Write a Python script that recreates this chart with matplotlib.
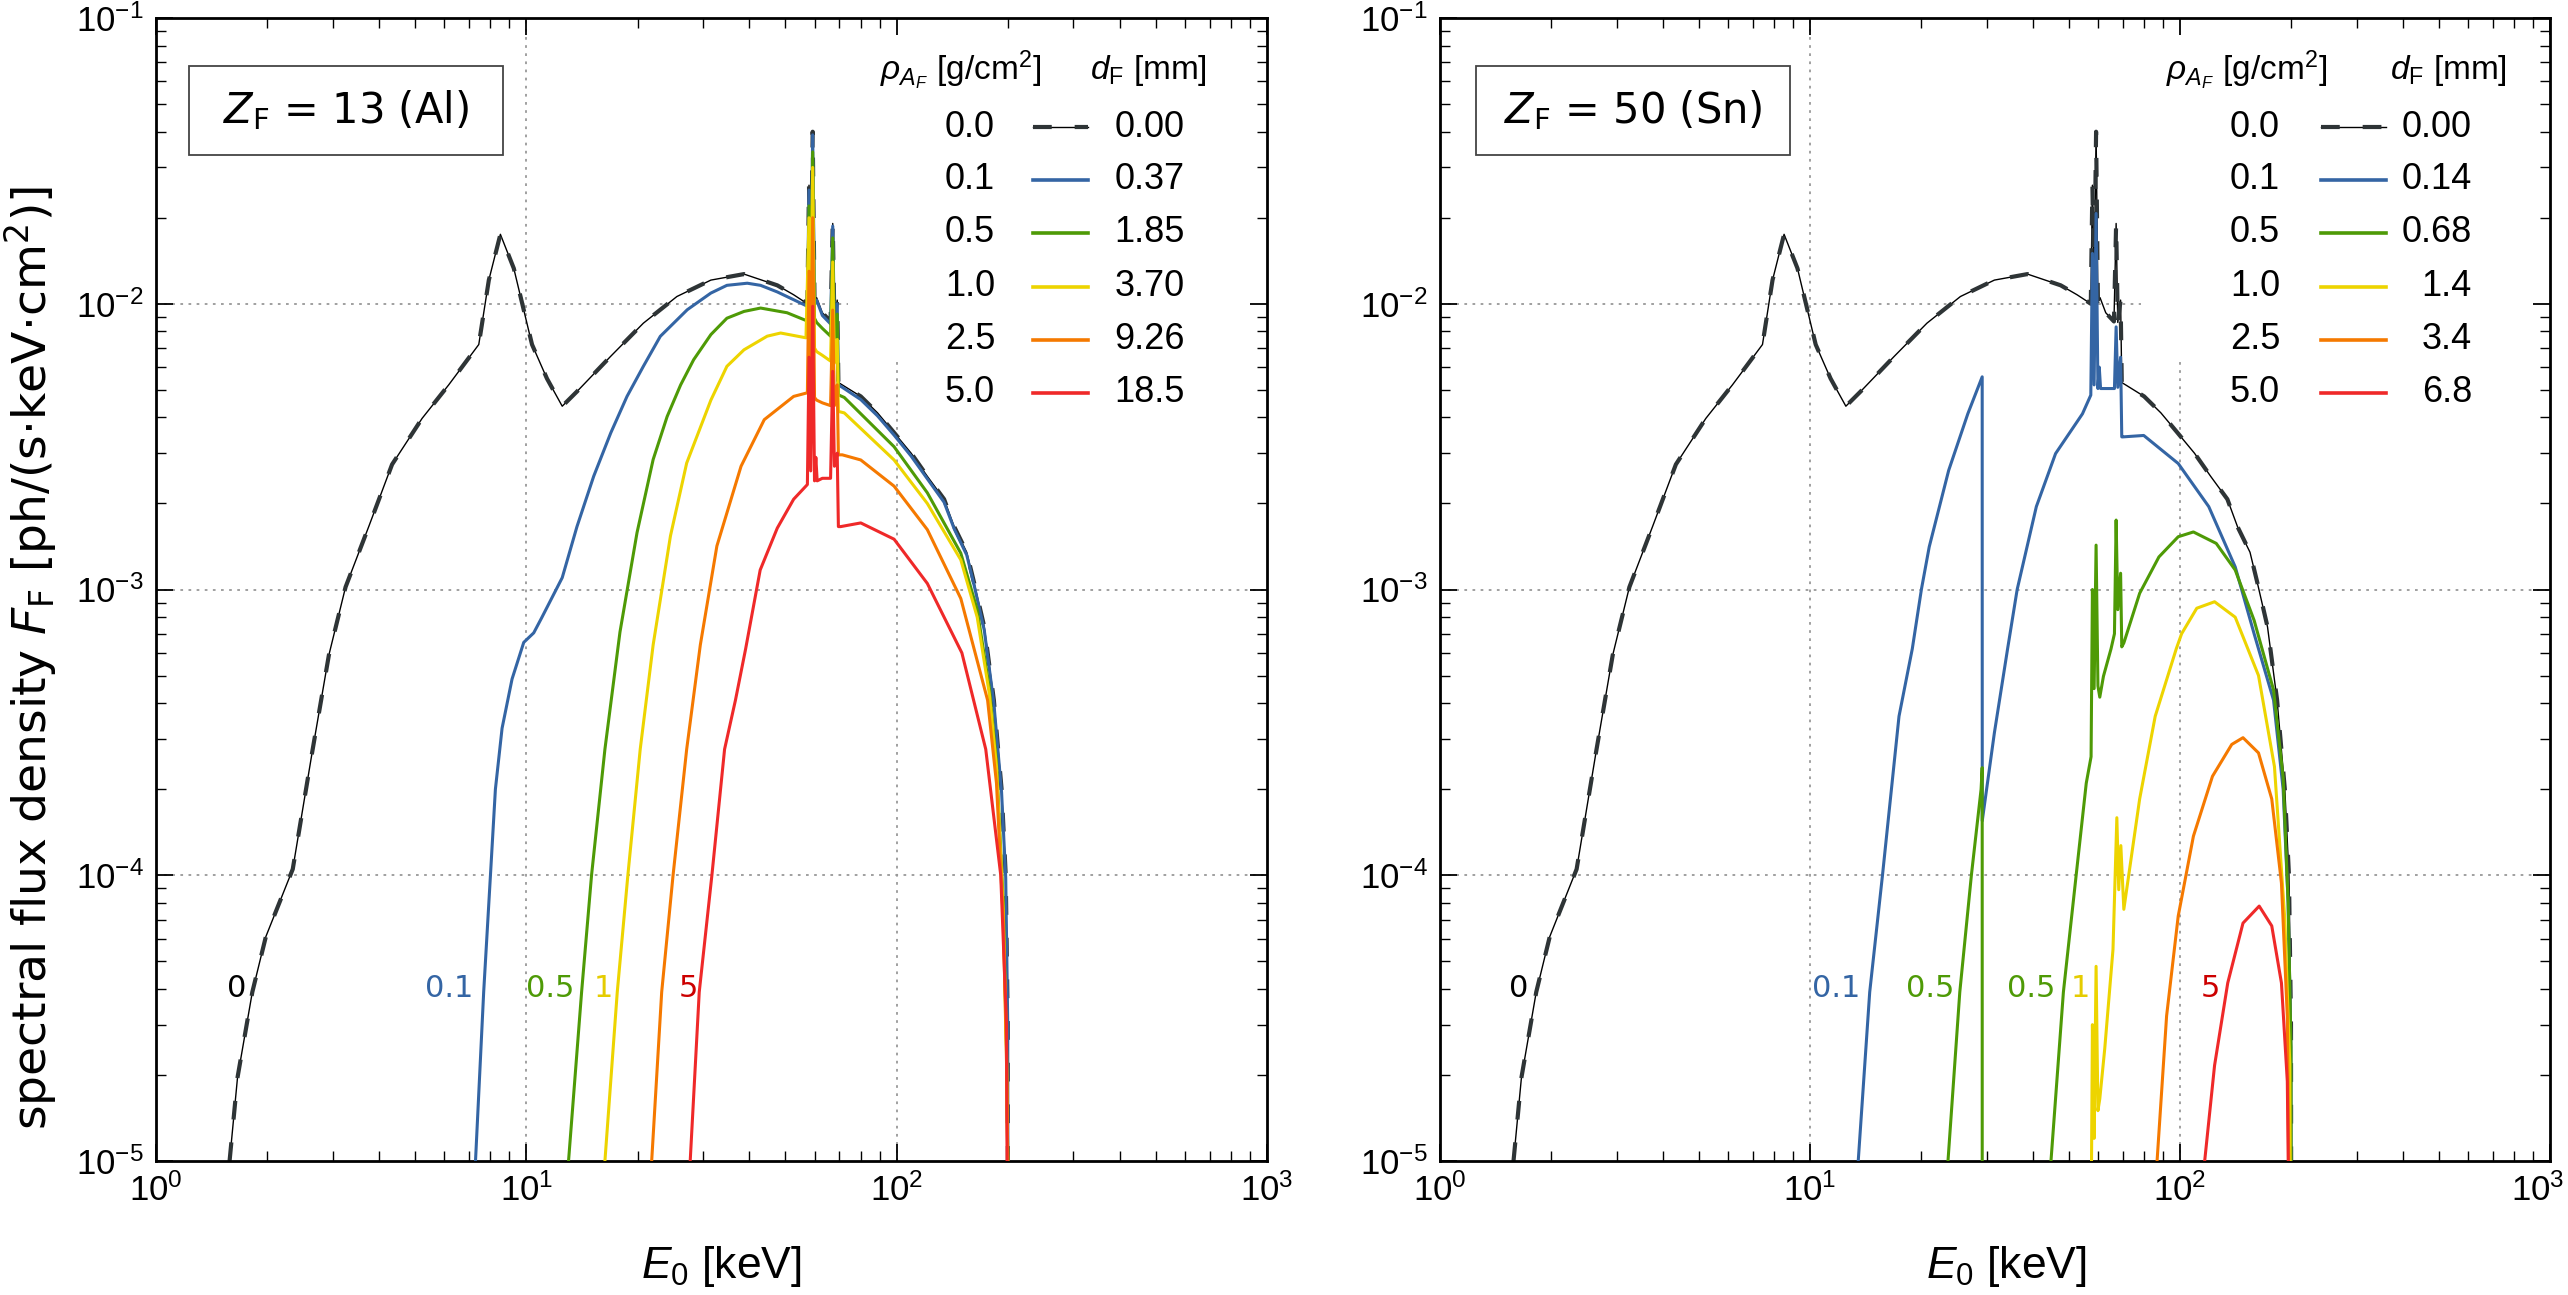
import matplotlib
matplotlib.use("Agg")
import matplotlib.pyplot as plt
import matplotlib.transforms as mtrans
from matplotlib.patches import Rectangle
from matplotlib.ticker import LogLocator, LogFormatterMathtext, NullFormatter

plt.rcParams['font.family'] = ['Liberation Sans', 'DejaVu Sans']
plt.rcParams['mathtext.fontset'] = 'custom'
plt.rcParams['mathtext.rm'] = 'Liberation Sans'
plt.rcParams['mathtext.it'] = 'Liberation Sans:italic'
plt.rcParams['mathtext.bf'] = 'Liberation Sans:bold'

# unfiltered spectrum (same in both panels)
e_0 = [1.58, 1.66, 1.82, 1.98, 2.34, 2.64, 2.93, 3.25, 3.76, 4.34, 5.23, 6.17, 7.44, 7.92, 8.51,
       9.25, 10.36, 11.37, 12.5, 13.7, 16.9, 20.7, 25.5, 31.5, 38.7, 47.6, 52.7, 57.4, 57.98, 58.6,
       59.32, 60.0, 60.8, 63.0, 66.3, 67.2, 67.9, 69.1, 69.6, 71.3, 80, 88.8, 98.4, 109.4, 121, 134.3,
       143, 154.6, 162, 172.4, 183, 192, 197, 199.5, 200]
f_0 = [1.0e-5, 1.96e-5, 3.9e-5, 6.1e-5, 1.05e-4, 2.69e-4, 5.9e-4, 1.02e-3, 1.67e-3, 2.74e-3, 3.97e-3,
       5.2e-3, 7.2e-3, 1.21e-2, 1.75e-2, 1.33e-2, 7.2e-3, 5.47e-3, 4.38e-3, 4.93e-3, 6.55e-3, 8.55e-3,
       1.06e-2, 1.21e-2, 1.27e-2, 1.16e-2, 1.075e-2, 1.0e-2, 2.6e-2, 1.1e-2, 4.0e-2, 1.02e-2, 1.05e-2,
       9.3e-3, 8.67e-3, 1.91e-2, 8.6e-3, 1.03e-2, 5.3e-3, 5.2e-3, 4.74e-3, 4.15e-3, 3.54e-3, 3.0e-3,
       2.49e-3, 2.07e-3, 1.66e-3, 1.35e-3, 1.05e-3, 7.4e-4, 4.1e-4, 2.0e-4, 1.0e-4, 3e-5, 1e-6]

# Al filter
al_e = {
    0.1: [7.29, 7.67, 8.0, 8.25, 8.6, 9.15, 9.84, 10.47, 11.0, 12.5, 13.7, 15.2, 16.9, 18.7, 20.7, 23.0,
          27.2, 31.5, 34.8, 39.5, 42.9, 47.6, 57.4, 57.98, 58.6, 59.32, 60.0, 60.8, 63, 66.3, 67.2, 67.9,
          69.1, 69.6, 71.3, 80, 88.8, 98.4, 109.4, 121, 134.3, 143, 154.6, 162, 172.4, 183, 192, 197,
          199.5, 200],
    0.5: [13.0, 14.1, 15.0, 16.3, 17.9, 19.9, 22.0, 24.0, 26.1, 28.3, 31.5, 34.8, 38.7, 42.9, 50.6,
          57.4, 57.98, 58.6, 59.32, 60.0, 60.8, 63, 66.3, 67.2, 67.9, 69.1, 69.6, 72.2, 98.4, 121, 149,
          165, 178, 186, 194, 198, 199.5, 200],
    1.0: [16.3, 17.6, 18.8, 20.3, 22.0, 24.5, 27.1, 31.5, 34.8, 38.7, 44.7, 48.6, 56.9, 57.98, 58.6,
          59.32, 60.0, 60.8, 63, 66.3, 67.2, 67.9, 69.1, 69.6, 72.2, 98.4, 121, 149, 165, 178, 186, 194,
          198, 199.5, 200],
    2.5: [21.8, 23.2, 24.9, 27.1, 29.5, 32.7, 38.0, 43.9, 52.7, 57.4, 57.98, 58.6, 59.32, 60.0, 60.8,
          63, 66.3, 67.2, 67.9, 69.1, 69.6, 71.3, 80, 98.4, 121, 149, 176, 186, 194, 198, 199.5, 200],
    5.0: [27.7, 29.3, 31.7, 34.3, 36.7, 39.1, 42.8, 47.6, 52.7, 57.4, 57.98, 58.6, 59.32, 60.0, 60.5,
          61.0, 63, 66.3, 67.2, 67.9, 69.1, 69.6, 70.6, 80, 98.4, 121, 150, 174, 191, 198, 200],
}
al_f = {
    0.1: [1e-5, 3.9e-5, 1.0e-4, 2.0e-4, 3.27e-4, 4.86e-4, 6.53e-4, 7.05e-4, 7.96e-4, 1.10e-3, 1.66e-3,
          2.49e-3, 3.53e-3, 4.74e-3, 6.04e-3, 7.69e-3, 9.53e-3, 1.09e-2, 1.16e-2, 1.18e-2, 1.16e-2,
          1.10e-2, 9.8e-3, 2.5e-2, 1.08e-2, 3.9e-2, 1.0e-2, 1.03e-2, 9.1e-3, 8.5e-3, 1.87e-2, 8.4e-3,
          1.0e-2, 5.2e-3, 5.1e-3, 4.62e-3, 4.05e-3, 3.47e-3, 2.93e-3, 2.44e-3, 2.02e-3, 1.63e-3, 1.32e-3,
          1.03e-3, 7.2e-4, 4.0e-4, 1.95e-4, 9.8e-5, 3e-5, 1e-6],
    0.5: [1e-5, 3.9e-5, 1e-4, 2.76e-4, 7.1e-4, 1.58e-3, 2.85e-3, 4.03e-3, 5.2e-3, 6.37e-3, 7.8e-3,
          8.9e-3, 9.4e-3, 9.66e-3, 9.3e-3, 8.7e-3, 2.2e-2, 9.5e-3, 3.4e-2, 8.9e-3, 8.6e-3, 8.2e-3,
          7.7e-3, 1.7e-2, 7.6e-3, 9.2e-3, 4.8e-3, 4.7e-3, 3.16e-3, 2.18e-3, 1.34e-3, 8.5e-4, 4.5e-4,
          2.5e-4, 8e-5, 2.5e-5, 1e-5, 1e-6],
    1.0: [1e-5, 3.9e-5, 1e-4, 2.76e-4, 6.4e-4, 1.54e-3, 2.77e-3, 4.6e-3, 6.04e-3, 6.9e-3, 7.7e-3, 7.9e-3,
          7.6e-3, 2.0e-2, 7.8e-3, 3.0e-2, 7.0e-3, 6.8e-3, 6.6e-3, 6.3e-3, 1.4e-2, 6.2e-3, 7.5e-3, 4.2e-3,
          4.15e-3, 2.84e-3, 2.0e-3, 1.27e-3, 8.0e-4, 4.3e-4, 2.4e-4, 7.5e-5, 2.4e-5, 1e-5, 1e-6],
    2.5: [1e-5, 3.9e-5, 1e-4, 2.76e-4, 6.4e-4, 1.42e-3, 2.7e-3, 3.93e-3, 4.74e-3, 4.88e-3, 1.3e-2,
          5.4e-3, 2.0e-2, 4.7e-3, 4.6e-3, 4.5e-3, 4.4e-3, 9.5e-3, 4.4e-3, 5.2e-3, 2.96e-3, 2.96e-3,
          2.84e-3, 2.3e-3, 1.62e-3, 9.3e-4, 4.1e-4, 2.1e-4, 7e-5, 2.2e-5, 1e-5, 1e-6],
    5.0: [1e-5, 3.9e-5, 1e-4, 2.76e-4, 4.1e-4, 6.2e-4, 1.17e-3, 1.64e-3, 2.07e-3, 2.33e-3, 6.5e-3,
          2.6e-3, 9.8e-3, 2.4e-3, 2.9e-3, 2.4e-3, 2.45e-3, 2.45e-3, 5.8e-3, 2.7e-3, 3.0e-3, 1.66e-3,
          1.66e-3, 1.71e-3, 1.5e-3, 1.05e-3, 6.0e-4, 2.76e-4, 1e-4, 3e-5, 1e-6],
}

# Sn filter
sn_e = {
    0.1: [13.5, 14.5, 15.7, 17.4, 18.9, 20.0, 21.0, 23.7, 26.7, 29.2, 29.21, 31.5, 34.2, 36.3, 40.9, 46.1,
          54.5, 57.4, 57.98, 58.6, 59.32, 60.0, 60.5, 61.0, 66.5, 67.2, 67.9, 69.1, 69.6, 70.0, 79.8, 98.9,
          119.6, 141, 158.6, 179, 190, 196, 199.5, 200],
    0.5: [23.6, 25.4, 27.3, 29.0, 29.2, 29.21, 44.0, 44.8, 48.4, 52.4, 55.8, 57.5, 57.98, 58.6, 59.32,
          60.0, 60.7, 62.1, 65.1, 66.5, 67.2, 67.9, 69.1, 69.6, 70.5, 77.8, 87.7, 98.9, 108.7, 125.3, 141,
          158.6, 179, 190, 196, 199.5, 200],
    1.0: [57.0, 57.98, 58.6, 59.32, 60.0, 60.7, 62.6, 65.9, 67.5, 68.3, 69.2, 70.5, 77.8, 85.7, 97.7, 101,
          111, 124, 141, 163, 180, 192, 198, 200],
    2.5: [86.7, 92.0, 98.9, 108.7, 122.4, 138, 148, 163, 177, 188, 195, 200],
    5.0: [116.6, 124, 134.6, 148, 163.7, 177, 188, 195, 200],
}
sn_f = {
    0.1: [1e-5, 3.9e-5, 1e-4, 3.6e-4, 6.2e-4, 1e-3, 1.41e-3, 2.61e-3, 4.12e-3, 5.55e-3, 1.55e-4, 3.15e-4,
          6.2e-4, 1e-3, 1.95e-3, 2.99e-3, 4.12e-3, 4.79e-3, 1.5e-2, 5.2e-3, 2.07e-2, 5.05e-3, 6.0e-3,
          5.05e-3, 5.05e-3, 8.3e-3, 5.1e-3, 6.5e-3, 3.42e-3, 3.42e-3, 3.46e-3, 2.76e-3, 1.95e-3, 1.2e-3,
          7.0e-4, 4.1e-4, 2.0e-4, 8e-5, 2.5e-5, 1e-6],
    0.5: [1e-5, 3.9e-5, 1e-4, 2.0e-4, 2.38e-4, 1e-7, 1e-7, 1e-5, 3.9e-5, 1e-4, 2.1e-4, 2.6e-4, 1.0e-3,
          4.5e-4, 1.43e-3, 4.6e-4, 4.2e-4, 4.97e-4, 6.2e-4, 7.0e-4, 1.75e-3, 8.5e-4, 1.14e-3, 6.3e-4,
          6.5e-4, 9.7e-4, 1.3e-3, 1.53e-3, 1.59e-3, 1.45e-3, 1.17e-3, 7.8e-4, 4.45e-4, 2.2e-4, 8e-5,
          2.5e-5, 1e-6],
    1.0: [1e-6, 3.0e-5, 1.2e-5, 4.8e-5, 1.5e-5, 1.65e-5, 2.47e-5, 5.5e-5, 1.59e-4, 8.9e-5, 1.27e-4,
          7.6e-5, 1.85e-4, 3.6e-4, 6.2e-4, 7.0e-4, 8.6e-4, 9.06e-4, 8.0e-4, 5.0e-4, 2.4e-4, 7e-5, 2.2e-5,
          1e-6],
    2.5: [1e-5, 3.22e-5, 7.2e-5, 1.37e-4, 2.22e-4, 2.87e-4, 3.03e-4, 2.68e-4, 1.85e-4, 9.4e-5, 3.2e-5, 1e-6],
    5.0: [1e-5, 2.16e-5, 4.2e-5, 6.8e-5, 7.8e-5, 6.65e-5, 4.2e-5, 1.9e-5, 1e-6],
}

rho = [0.1, 0.5, 1.0, 2.5, 5.0]
rho_labels = ['0.0', '0.1', '0.5', '1.0', '2.5', '5.0']
d_al = ['0.00', '0.37', '1.85', '3.70', '9.26', '18.5']
d_sn = ['0.00', '0.14', '0.68', '1.4', '3.4', '6.8']
colors = {0.1: '#3465A4', 0.5: '#4E9A06', 1.0: '#EDD400', 2.5: '#F57900', 5.0: '#EF2929'}
text_colors = {0: 'black', 0.1: '#3465A4', 0.5: '#4E9A06', 1: '#E5CC00', 5: '#CC0000'}

# in-plot curve labels: (text, energy, key for colour)
al_marks = [('0', 1.65, 0), ('0.1', 6.2, 0.1), ('0.5', 11.6, 0.5), ('1', 16.1, 1), ('5', 27.4, 5)]
sn_marks = [('0', 1.63, 0), ('0.1', 11.8, 0.1), ('0.5', 21.1, 0.5), ('0.5', 39.7, 0.5),
            ('1', 53.8, 1), ('5', 121, 5)]

fig = plt.figure(figsize=(25.68, 12.95), dpi=100)
ax1 = fig.add_axes([0.06075, 0.10347, 0.43263, 0.88263])
ax2 = fig.add_axes([0.56075, 0.10347, 0.43224, 0.88263])

panels = [
    (ax1, al_e, al_f, d_al, al_marks, '$Z_\\mathrm{F}$ = 13 (Al)', 73.7, 0.0297,
     dict(lab=0.7552, h0=0.7894, h1=0.8389, dr=0.9262, hd1=0.6517, hd2=0.8407)),
    (ax2, sn_e, sn_f, d_sn, sn_marks, '$Z_\\mathrm{F}$ = 50 (Sn)', 78.5, 0.0324,
     dict(lab=0.7568, h0=0.7937, h1=0.8523, dr=0.9297, hd1=0.654, hd2=0.8559)),
]

black_dash = (0, (4.5, 5.5))
grid_kw = dict(color='#999999', lw=1.3, ls=(0, (1.5, 3)), zorder=1)

for ax, fe, ff, dvals, marks, title, hend, bx, lg in panels:
    ax.set_xscale('log')
    ax.set_yscale('log')
    ax.set_xlim(1, 1000)
    ax.set_ylim(1e-5, 1e-1)

    # partial dotted grid
    ax.plot([10, 10], [1e-5, 1e-1], **grid_kw)
    ax.plot([100, 100], [1e-5, 6.4e-3], **grid_kw)
    ax.plot([1, 1000], [1e-3, 1e-3], **grid_kw)
    ax.plot([1, 1000], [1e-4, 1e-4], **grid_kw)
    ax.plot([1, hend], [1e-2, 1e-2], **grid_kw)

    ax.plot(e_0, f_0, color='black', lw=1.0, zorder=2)
    ax.plot(e_0, f_0, color='#2E3436', lw=3.0, ls=black_dash, zorder=2)
    for r in rho:
        ax.plot(fe[r], ff[r], color=colors[r], lw=2.2, zorder=3)

    for txt, xe, key in marks:
        ax.text(xe, 4.0e-5, txt, color=text_colors[key], fontsize=22, family='DejaVu Sans',
                ha='center', va='center', zorder=4)

    # element box
    ax.add_patch(Rectangle((bx, 0.8799), 0.2826, 0.0784, transform=ax.transAxes,
                           fill=False, ec='#444444', lw=1.3, zorder=4))
    ax.text(bx + 0.1413, 0.919, title, transform=ax.transAxes,
            fontsize=30, family='DejaVu Sans', math_fontfamily='dejavusans',
            ha='center', va='center', zorder=5)

    # legend drawn by hand: areal density | line | thickness
    ax.text(lg['hd1'], 0.9545, '$\\rho_{A_F}$ [g/cm$^2$]', transform=ax.transAxes,
            fontsize=24, ha='left', va='center')
    ax.text(lg['hd2'], 0.9545, '$d_\\mathrm{F}$ [mm]', transform=ax.transAxes,
            fontsize=24, ha='left', va='center')
    row_y = [0.9046, 0.8583, 0.8119, 0.7647, 0.7183, 0.672]
    for i, yy in enumerate(row_y):
        ax.text(lg['lab'], yy, rho_labels[i], transform=ax.transAxes, fontsize=26,
                ha='right', va='center')
        ax.text(lg['dr'], yy, dvals[i], transform=ax.transAxes, fontsize=26,
                ha='right', va='center')
        if i == 0:
            ax.plot([lg['h0'], lg['h1']], [yy, yy], transform=ax.transAxes, color='black', lw=1.0)
            ax.plot([lg['h0'], lg['h1']], [yy, yy], transform=ax.transAxes, color='#2E3436',
                    lw=3.0, ls=black_dash)
        else:
            ax.plot([lg['h0'], lg['h1']], [yy, yy], transform=ax.transAxes,
                    color=colors[rho[i - 1]], lw=2.6)

    # ticks
    for axis in (ax.xaxis, ax.yaxis):
        axis.set_major_locator(LogLocator(base=10, numticks=10))
        axis.set_minor_locator(LogLocator(base=10, subs=range(2, 10), numticks=100))
        axis.set_major_formatter(LogFormatterMathtext())
        axis.set_minor_formatter(NullFormatter())
    ax.tick_params(which='both', direction='in', top=True, right=True)
    ax.tick_params(which='major', length=12, width=1.3, labelsize=25, pad=9)
    ax.tick_params(which='minor', length=7, width=1.0)
    for s in ax.spines.values():
        s.set_linewidth(2.0)

    ax.set_xlabel('$E_0$ [keV]', fontsize=32, va='center')

ax1.xaxis.set_label_coords(0.5085, -0.092)
ax2.xaxis.set_label_coords(0.51, -0.092)
ax1.set_ylabel('spectral flux density $F_\\mathrm{F}$ [ph/(s$\\cdot$keV$\\cdot$cm$^2$)]',
               fontsize=34, family='DejaVu Sans', math_fontfamily='dejavusans', va='center')
ax1.yaxis.set_label_coords(-0.1134, 0.44)

# keep the last x tick label of the right panel inside the figure
fig.canvas.draw()
for lbl in ax2.get_xticklabels():
    if abs(lbl.get_position()[0] - 1000) < 1:
        lbl.set_transform(lbl.get_transform() +
                          mtrans.ScaledTranslation(-0.12, 0, fig.dpi_scale_trans))

fig.savefig('out.png', dpi=100)
